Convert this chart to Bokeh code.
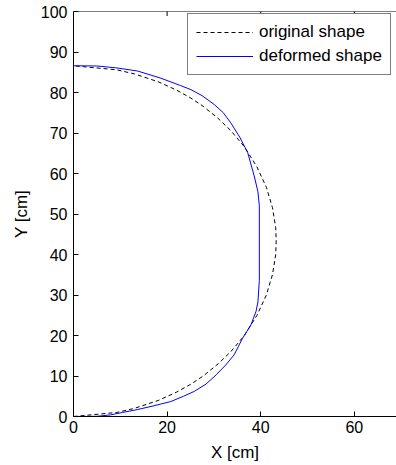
import math
from bokeh.plotting import figure
from bokeh.models import Legend, LegendItem, FixedTicker, Range1d, Span
from bokeh.embed import file_html
from bokeh.resources import INLINE

# original shape (dashed)
orig_x = [0, 9.25, 13.0, 18.2, 22.0, 25.1, 27.7, 30.9, 33.6, 36.5, 39.2, 41.2, 42.5, 43.2, 43.3,
          43.2, 42.5, 41.2, 39.2, 36.5, 33.6, 30.9, 27.7, 25.1, 22.0, 18.2, 13.0, 9.25, 0]
orig_y = [0, 1.0, 2.0, 4.0, 6.0, 8.0, 10.0, 13.0, 16.0, 20.0, 25.0, 30.0, 35.0, 40.0, 43.3,
          46.6, 51.6, 56.6, 61.6, 66.6, 70.6, 73.6, 76.6, 78.6, 80.6, 82.6, 84.6, 85.6, 86.6]

# deformed shape (solid blue)
def_x = [0, 5.0, 7.9, 10.5, 13.6, 17.0, 20.8, 23.5, 25.8, 28.3, 30.5, 32.5, 34.3, 36.1, 37.9,
         39.0, 39.4, 39.7, 39.7, 39.4, 38.6, 37.2, 35.5, 33.6, 32.0, 30.1, 27.5, 25.1, 22.9,
         18.5, 13.7, 9.0, 5.0, 0]
def_y = [0, 0.05, 0.4, 1.0, 1.7, 2.6, 3.7, 5.0, 6.2, 8.0, 10.3, 12.7, 15.2, 19.3, 22.6,
         26.0, 28.3, 33.6, 52.0, 55.5, 59.4, 65.2, 69.0, 72.5, 75.0, 77.0, 79.2, 80.7, 81.7,
         83.6, 85.3, 86.1, 86.55, 86.6]

x_ticks = [0, 20, 40, 60]
y_ticks = [0, 10, 20, 30, 40, 50, 60, 70, 80, 90, 100]
labels = ["original shape", "deformed shape"]

FONT = "Liberation Sans"
X_END = 69.0
Y_END = 100

p = figure(width=396, height=464, x_range=Range1d(0, X_END), y_range=Range1d(0, Y_END),
           output_backend="svg", toolbar_location=None,
           min_border_left=73, min_border_right=0, min_border_top=11, min_border_bottom=46,
           x_axis_label="X [cm]", y_axis_label="Y [cm]")
p.grid.visible = False
p.outline_line_color = None
p.background_fill_color = "white"

p.xaxis.ticker = FixedTicker(ticks=x_ticks)
p.yaxis.ticker = FixedTicker(ticks=y_ticks)
for ax in (p.xaxis[0], p.yaxis[0]):
    ax.axis_line_color = "black"
    ax.major_tick_line_color = "black"
    ax.major_tick_in = 5
    ax.major_tick_out = 0
    ax.minor_tick_line_color = None
    ax.major_label_text_font = FONT
    ax.major_label_text_font_size = "16px"
    ax.major_label_text_color = "black"
    ax.axis_label_text_font = FONT
    ax.axis_label_text_font_size = "17px"
    ax.axis_label_text_font_style = "normal"
    ax.axis_label_text_color = "black"
p.xaxis.major_label_standoff = 4
p.xaxis.axis_label_standoff = 7
p.yaxis.major_label_standoff = 6
p.yaxis.axis_label_standoff = 7

# top box line with inward ticks
p.add_layout(Span(location=Y_END, dimension="width", line_color="black", line_width=1))
p.scatter(x_ticks[1:], [Y_END] * (len(x_ticks) - 1), marker="dash", size=9,
          angle=math.pi / 2, line_color="black", line_width=1)

r1 = p.line(orig_x, orig_y, line_color="black", line_width=1, line_dash="4 3")
r2 = p.line(def_x, def_y, line_color="#0000ff", line_width=1)

legend = Legend(items=[LegendItem(label=labels[0], renderers=[r1]),
                       LegendItem(label=labels[1], renderers=[r2])],
                location=(114, 341), padding=8, spacing=4, margin=0,
                glyph_width=57, glyph_height=20, label_height=20, label_standoff=6,
                label_text_font=FONT, label_text_font_size="17px", label_text_color="black",
                border_line_color="black", border_line_width=1,
                background_fill_color="white", background_fill_alpha=1.0)
p.add_layout(legend)

open("out.html", "w").write(file_html(p, INLINE))
